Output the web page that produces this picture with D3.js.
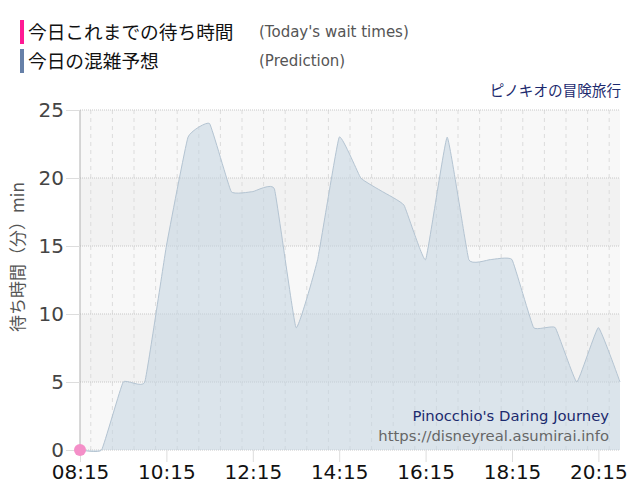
<!DOCTYPE html>
<html>
<head>
<meta charset="utf-8">
<style>
  body { margin: 0; background: #fff; font-family: "Noto Sans CJK JP", "DejaVu Sans", sans-serif; }
  .tick text { font-family: "DejaVu Sans", sans-serif; }
</style>
</head>
<body>
<svg width="640" height="500"></svg>
<script src="https://d3js.org/d3.v7.min.js"></script>
<script>
// prediction every 30 min, from 08:15
var times = ["08:15","08:45","09:15","09:45","10:15","10:45","11:15","11:45","12:15","12:45",
             "13:15","13:45","14:15","14:45","15:15","15:45","16:15","16:45","17:15","17:45",
             "18:15","18:45","19:15","19:45","20:15","20:45"];
var prediction = [0,0,5,5,15,23,24,19,19,19.2,9,14,23,20,19,18,14,23,14,14,14,9,9,5,9,5];
var actualTimes = ["08:15"];
var actual = [0];
var xTicks = ["08:15","10:15","12:15","14:15","16:15","18:15","20:15"];
var yTicks = [0,5,10,15,20,25];

var parse = d3.timeParse("%H:%M");
var svg = d3.select("svg");
var m = { left: 80, right: 620, top: 110, bottom: 450 };

var x = d3.scaleTime()
    .domain([parse("08:15"), parse("20:45")])
    .range([m.left, m.right]);
var y = d3.scaleLinear().domain([0, 25]).range([m.bottom, m.top]);

// background bands
var bands = d3.range(0, 25, 5);
svg.append("g").selectAll("rect").data(bands).enter().append("rect")
    .attr("x", m.left).attr("width", m.right - m.left)
    .attr("y", function(d) { return y(d + 5); })
    .attr("height", function(d) { return y(d) - y(d + 5); })
    .attr("fill", function(d, i) { return i % 2 ? "#f2f2f2" : "#f8f8f8"; });

// vertical grid every 30 min
var fmt = d3.timeFormat("%H:%M");
var halfHours = d3.timeMinute.every(30).range(parse("08:15"), parse("20:46"));
svg.append("g").selectAll("line").data(halfHours).enter().append("line")
    .attr("x1", x).attr("x2", x).attr("y1", m.top).attr("y2", m.bottom)
    .attr("stroke", function(d) { return xTicks.indexOf(fmt(d)) >= 0 ? "#cfcfcf" : "#dcdcdc"; })
    .attr("stroke-dasharray", function(d) { return xTicks.indexOf(fmt(d)) >= 0 ? "1,1" : "4,4"; });

// horizontal grid
svg.append("g").selectAll("line").data(yTicks).enter().append("line")
    .attr("x1", m.left).attr("x2", m.right)
    .attr("y1", y).attr("y2", y)
    .attr("stroke", "#c8c8c8").attr("stroke-dasharray", "1,1");

// prediction area
var pts = times.map(function(t, i) { return [parse(t), prediction[i]]; });
var curve = d3.curveCardinal.tension(0.7);
var area = d3.area()
    .x(function(d) { return x(d[0]); })
    .y0(m.bottom)
    .y1(function(d) { return y(d[1]); })
    .curve(curve);
var line = d3.line()
    .x(function(d) { return x(d[0]); })
    .y(function(d) { return y(d[1]); })
    .curve(curve);

svg.append("path").datum(pts).attr("d", area)
    .attr("fill", "#c3d3e0").attr("fill-opacity", 0.55);
svg.append("path").datum(pts).attr("d", line)
    .attr("fill", "none").attr("stroke", "#b4c4d2").attr("stroke-width", 1);

// axes
svg.append("line").attr("x1", m.left).attr("x2", m.left).attr("y1", m.top).attr("y2", m.bottom)
    .attr("stroke", "#b0b0b0");

var yAxis = svg.append("g").attr("transform", "translate(" + m.left + ",0)")
    .call(d3.axisLeft(y).tickValues(yTicks).tickSize(14).tickPadding(2));
yAxis.select(".domain").remove();
yAxis.selectAll(".tick line").attr("stroke", "#dddddd");
yAxis.selectAll(".tick text").attr("font-size", 20).attr("fill", "#444");

var xAxis = svg.append("g").attr("transform", "translate(0," + m.bottom + ")")
    .call(d3.axisBottom(x).tickValues(xTicks.map(parse)).tickFormat(fmt).tickSize(12).tickPadding(3));
xAxis.select(".domain").remove();
xAxis.selectAll(".tick line").attr("stroke", "#dddddd");
xAxis.selectAll(".tick text").attr("font-size", 20).attr("fill", "#111");

// actual wait times
svg.append("g").selectAll("circle").data(actualTimes).enter().append("circle")
    .attr("cx", function(d) { return x(parse(d)); })
    .attr("cy", function(d, i) { return y(actual[i]); })
    .attr("r", 6).attr("fill", "#f48fc8");

// legend
var legend = [
  { jp: "今日これまでの待ち時間", en: "(Today's wait times)", color: "#ff1a94", y: 20 },
  { jp: "今日の混雑予想", en: "(Prediction)", color: "#6680a8", y: 49 }
];
var lg = svg.append("g").selectAll("g").data(legend).enter().append("g");
lg.append("rect").attr("x", 20).attr("y", function(d) { return d.y; })
    .attr("width", 4).attr("height", 24).attr("fill", function(d) { return d.color; });
lg.append("text").attr("x", 28).attr("y", function(d) { return d.y + 19; })
    .attr("font-size", 18.7).attr("fill", "#111").text(function(d) { return d.jp; });
lg.append("text").attr("x", 259).attr("y", function(d) { return d.y + 17; })
    .attr("font-size", 15).attr("fill", "#555").attr("font-family", "'DejaVu Sans', sans-serif")
    .text(function(d) { return d.en; });

// title
svg.append("text").attr("x", 621).attr("y", 96).attr("text-anchor", "end")
    .attr("font-size", 14.6).attr("fill", "#1c2a6e").text("ピノキオの冒険旅行");

// y label
svg.append("text").attr("transform", "translate(24,257) rotate(-90)")
    .attr("text-anchor", "middle").attr("font-size", 17).attr("fill", "#555")
    .text("待ち時間（分）min");

// watermark
svg.append("text").attr("x", 609).attr("y", 421).attr("text-anchor", "end")
    .attr("font-size", 14.8).attr("fill", "#1c2a6e").attr("font-family", "'DejaVu Sans', sans-serif")
    .text("Pinocchio's Daring Journey");
svg.append("text").attr("x", 609).attr("y", 441).attr("text-anchor", "end")
    .attr("font-size", 14.8).attr("fill", "#666").attr("font-family", "'DejaVu Sans', sans-serif")
    .text("https://disneyreal.asumirai.info");
</script>
</body>
</html>
